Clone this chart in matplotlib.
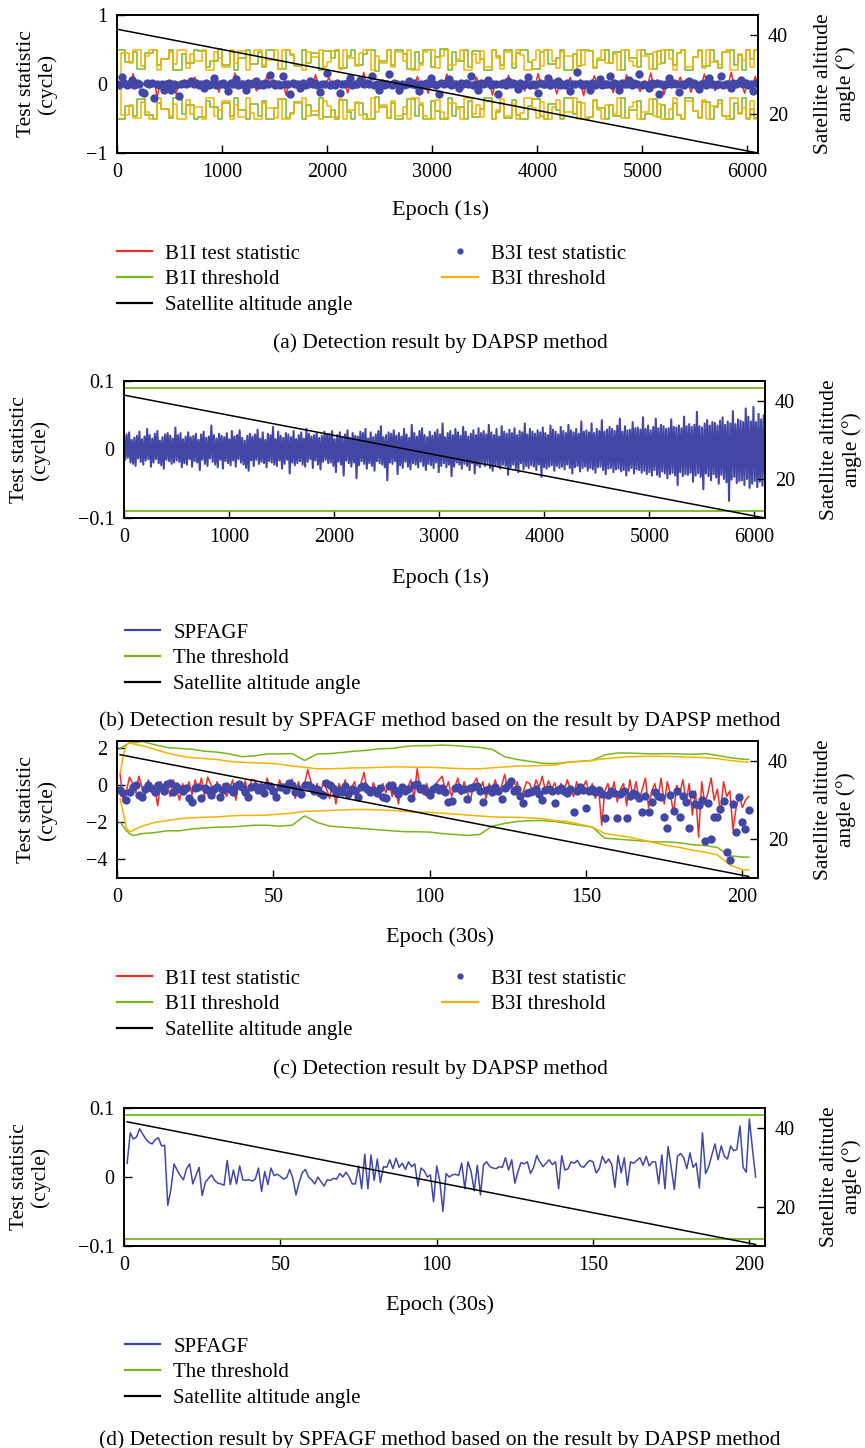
import matplotlib.pyplot as plt
import numpy as np
from matplotlib.lines import Line2D

plt.rcParams['font.family'] = 'Liberation Serif'
plt.rcParams['font.size'] = 14

RED = '#e8302a'
GREEN = '#7ab51d'
ORANGE = '#f5b300'
BLUE = '#4247a6'

# satellite altitude angle (deg) over the arc
alt_epoch_1s = [0, 6100]
alt_deg_1s = [41.4, 10.0]
alt_epoch_30s = [1, 202]
alt_deg_30s = [41.5, 10.4]

# ---- 1 s sampling, test statistics in 1e-3 cycle ----
b1i_stat_1s = [
    10, -15, 5, -8, 20, -5, 150, -12, 8, -20, 4, -6, 15, -10, 3, -190, 12, -4, 7, -18,
    6, -9, -145, 14, -3, 10, -7, 5, -14, 100, -2, 8, -11, 18, -6, 3, -9, 12, -120, 4,
    -5, 16, -8, 2, 160, -13, 6, -4, 11, -16, 7, -3, -100, 9, -12, 5, 120, -7, 3, -10,
    14, -6, 8, -160, 4, -11, 10, -2, -110, 6, 13, -8, 5, -15, 135, -4, 9, -12, 3, 95,
    -7, 12, -5, 8, -16, 2, -130, 10, -3, 14, -9, 6, 170, -11, 4, -8, 15, -6, -85, 9,
    3, -13, 7, -4, 11, -150, 5, -10, 16, -2, 8, -14, 110, -6, 12, -3, -135, 9, -7, 4,
    13, -9, 6, 145, -12, 3, -5, 10, -120, 8, -4, 15, -11, 2, 100, -8, 12, -16, 5, -3,
    -160, 7, -10, 14, -6, 4, 125, -13, 9, -2, 11, -7, -100, 16, -4, 8, -12, 150, 3, -9,
    6, -14, 10, -5, -145, 12, -3, 7, -11, 95, -8, 15, -6, 4, -170, 9, -13, 5, 120, -2,
    11, -7, 3, -16, 8, -125, 14, -4, 6, -10, 135, -12, 5, -3, 13, -110, 7, -9, 2, 160,
    -11, 4, -6, 12, -150, 8, -15, 3, 10, -5, 100, -8, 14, -2, -120, 6, -12, 9, -4, 145,
    7, -13, 5, -95, 11, -3, 16, -9, 4, 170, -7, 12, -14, 6, -135, 2, 10, -6, 110, -10,
]
b3i_stat_1s = [
    5, -10, 100, 12, -8, 3, 60, -15, 8, -4, -120, -130, 10, -6, 15, -200, 2, -12, 7, -80,
    -3, 11, -90, 6, -14, -180, 4, 9, -7, 13, 40, -5, 8, -11, 2, -60, 14, -9, 5, 90,
    -12, 6, -3, 15, -8, -100, 10, -4, 70, -13, 7, -2, -90, 12, -6, 9, 50, -15, 3, -8,
    11, -5, 130, 8, -12, 4, -10, 120, 6, -3, -150, 14, -7, 2, -60, 9, -11, 5, 40, -4,
    13, -9, -110, 7, -2, 160, -14, 6, -8, 10, -130, 3, -5, 12, 80, -10, 4, -7, 60, 15,
    -6, 9, -3, 110, -12, 5, -80, 8, -15, 2, 150, -9, 11, -4, -90, 6, -13, 7, 50, -2,
    10, -8, -100, 4, -11, 14, -6, 90, 3, -14, -140, 8, -5, 12, 70, -9, 6, -3, -60, 11,
    -7, 13, -4, 120, -10, 5, -90, 9, -2, 15, 60, -12, 7, -6, -150, 3, 11, -8, 40, -5,
    14, -3, -70, 8, -13, 6, 100, -9, 4, -11, -130, 12, -7, 2, 90, -15, 10, -4, 50, -8,
    5, -12, 9, -100, 3, -6, 180, 11, -14, 7, -2, -80, 13, -9, 4, 70, -10, 6, -3, 120,
    -11, 8, -5, -90, 15, -7, 3, 60, -12, 10, -4, 140, -8, 5, -13, -60, 9, -2, 11, -140,
    6, -10, 4, 80, -6, 12, -3, -110, 7, -14, 9, 50, -5, 13, -8, -70, 2, 10, -12, 90,
    -4, 7, -15, 3, 110, -9, 6, -2, -60, 11, -7, 14, 60, -3, 8, -11, 5, -100, 12, -6,
]
# thresholds are symmetric (+/-), in cycle
b1i_thr_1s = [
    0.50, 0.50, 0.32, 0.32, 0.47, 0.22, 0.22, 0.45, 0.45, 0.50, 0.28, 0.36, 0.36, 0.49, 0.21, 0.21, 0.44, 0.30, 0.30, 0.50,
    0.48, 0.48, 0.25, 0.33, 0.33, 0.51, 0.27, 0.27, 0.46, 0.20, 0.38, 0.38, 0.50, 0.29, 0.29, 0.47, 0.24, 0.50, 0.50, 0.35,
    0.22, 0.22, 0.49, 0.42, 0.26, 0.26, 0.50, 0.31, 0.45, 0.45, 0.21, 0.48, 0.48, 0.37, 0.50, 0.23, 0.23, 0.40, 0.50, 0.27,
    0.27, 0.44, 0.50, 0.50, 0.19, 0.34, 0.34, 0.49, 0.28, 0.50, 0.50, 0.43, 0.22, 0.22, 0.47, 0.30, 0.50, 0.50, 0.25, 0.39,
    0.51, 0.51, 0.21, 0.46, 0.33, 0.33, 0.50, 0.24, 0.48, 0.48, 0.36, 0.20, 0.20, 0.50, 0.41, 0.27, 0.49, 0.49, 0.23, 0.45,
    0.50, 0.50, 0.32, 0.22, 0.22, 0.47, 0.50, 0.29, 0.29, 0.38, 0.50, 0.21, 0.21, 0.44, 0.26, 0.50, 0.50, 0.48, 0.23, 0.35,
    0.35, 0.50, 0.30, 0.46, 0.46, 0.20, 0.49, 0.37, 0.37, 0.25, 0.50, 0.43, 0.43, 0.22, 0.48, 0.31, 0.50, 0.50, 0.27, 0.45,
    0.50, 0.21, 0.21, 0.39, 0.49, 0.26, 0.26, 0.50, 0.34, 0.23, 0.47, 0.47, 0.50, 0.28, 0.42, 0.20, 0.50, 0.36, 0.49, 0.24,
]
b3i_thr_1s = [
    0.00, 0.45, 0.45, 0.30, 0.49, 0.49, 0.26, 0.41, 0.50, 0.50, 0.20, 0.36, 0.36, 0.47, 0.29, 0.50, 0.50, 0.23, 0.43, 0.33,
    0.33, 0.50, 0.21, 0.21, 0.46, 0.38, 0.24, 0.24, 0.50, 0.31, 0.48, 0.48, 0.20, 0.42, 0.50, 0.50, 0.27, 0.35, 0.35, 0.49,
    0.22, 0.50, 0.50, 0.44, 0.28, 0.28, 0.21, 0.47, 0.39, 0.39, 0.50, 0.25, 0.32, 0.48, 0.48, 0.22, 0.50, 0.37, 0.37, 0.26,
    0.45, 0.50, 0.50, 0.20, 0.41, 0.30, 0.30, 0.49, 0.24, 0.47, 0.47, 0.34, 0.50, 0.21, 0.21, 0.28, 0.46, 0.50, 0.50, 0.23,
    0.40, 0.49, 0.27, 0.27, 0.36, 0.50, 0.20, 0.20, 0.44, 0.31, 0.48, 0.25, 0.25, 0.50, 0.38, 0.22, 0.47, 0.47, 0.29, 0.50,
    0.42, 0.20, 0.20, 0.35, 0.49, 0.26, 0.50, 0.50, 0.33, 0.23, 0.46, 0.40, 0.40, 0.21, 0.50, 0.28, 0.48, 0.48, 0.24, 0.37,
    0.50, 0.30, 0.30, 0.44, 0.20, 0.49, 0.49, 0.34, 0.26, 0.50, 0.41, 0.41, 0.22, 0.47, 0.29, 0.50, 0.50, 0.36, 0.21, 0.45,
    0.50, 0.25, 0.25, 0.39, 0.48, 0.23, 0.50, 0.32, 0.32, 0.27, 0.46, 0.50, 0.20, 0.20, 0.43, 0.35, 0.49, 0.24, 0.50, 0.30,
]
spfagf_1s = [
    18, -15, 22, -12, 25, -19, 14, -21, 17, -24, 20, -13, 26, -18, 15, -22, 19, -16, 30, -14,
    21, -25, 16, -19, 23, -14, 27, -20, 13, -23, 18, -28, 22, -15, 24, -17, 20, -21, 16, -19,
    32, -16, 21, -18, 24, -26, 15, -20, 19, -22, 25, -14, 18, -25, 20, -17, 23, -19, 14, -30,
    22, -15, 26, -21, 17, -24, 19, -13, 35, -18, 21, -22, 16, -26, 23, -15, 20, -28, 18, -17,
    24, -20, 15, -23, 27, -16, 19, -25, 21, -14, 28, -19, 17, -22, 13, -27, 20, -31, 23, -16,
    19, -24, 22, -15, 29, -21, 16, -18, 25, -20, 14, -26, 23, -17, 21, -19, 33, -22, 15, -24,
    26, -16, 20, -28, 17, -21, 24, -15, 22, -35, 18, -19, 27, -23, 15, -20, 21, -17, 25, -22,
    16, -25, 30, -18, 23, -14, 19, -27, 21, -16, 24, -22, 17, -29, 20, -18, 26, -15, 22, -20,
    23, -19, 27, -24, 15, -33, 21, -18, 25, -22, 18, -38, 22, -16, 28, -20, 17, -25, 24, -19,
    20, -42, 19, -23, 26, -17, 24, -21, 30, -28, 16, -20, 25, -24, 18, -31, 22, -17, 27, -20,
    34, -22, 18, -26, 21, -45, 25, -19, 23, -21, 28, -17, 20, -36, 24, -23, 19, -27, 30, -18,
    22, -25, 17, -29, 36, -20, 24, -22, 19, -26, 27, -18, 31, -24, 21, -30, 18, -21, 26, -23,
    20, -27, 25, -19, 29, -33, 22, -24, 38, -20, 18, -26, 24, -22, 27, -39, 21, -25, 30, -19,
    25, -22, 20, -28, 33, -21, 26, -24, 19, -30, 23, -20, 28, -35, 21, -23, 31, -26, 24, -19,
    27, -24, 22, -20, 36, -27, 25, -31, 21, -23, 30, -25, 19, -28, 34, -22, 26, -24, 23, -37,
    29, -26, 24, -22, 31, -28, 21, -33, 27, -20, 25, -29, 38, -24, 22, -27, 30, -23, 26, -25,
    23, -30, 28, -22, 25, -40, 32, -26, 24, -28, 21, -25, 35, -23, 29, -31, 26, -24, 22, -27,
    33, -25, 27, -29, 24, -22, 36, -27, 28, -35, 25, -26, 30, -24, 23, -32, 41, -27, 26, -25,
    28, -31, 25, -27, 38, -29, 24, -34, 30, -26, 27, -25, 43, -30, 26, -36, 29, -28, 33, -27,
    30, -33, 27, -29, 35, -28, 45, -32, 26, -30, 34, -38, 28, -31, 29, -27, 40, -35, 31, -29,
    32, -30, 29, -34, 47, -31, 30, -36, 35, -33, 28, -38, 33, -30, 45, -37, 31, -40, 36, -32,
    34, -35, 30, -42, 31, -36, 44, -34, 33, -38, 32, -52, 35, -33, 31, -39, 48, -36, 34, -37,
    37, -34, 33, -47, 36, -38, 55, -35, 34, -40, 32, -58, 38, -35, 43, -39, 35, -45, 40, -36,
    39, -41, 35, -50, 42, -37, 47, -43, 36, -48, 41, -75, 38, -44, 56, -40, 37, -49, 44, -46,
    42, -45, 40, -52, 60, -43, 48, -56, 41, -50, 62, -46, 40, -55, 52, -47, 44, -53, 50, -42,
]
spfagf_thr = 0.09

# ---- 30 s sampling, epochs 1..202 ----
b1i_stat_30s = [
    0.60, -0.90, -0.30, 0.45, 0.10, -0.40, 0.50, -0.10, -0.50, 0.30,
    -0.20, 0.00, -1.10, 0.20, -0.30, 0.10, -0.60, 0.30, -0.20, -0.80,
    0.10, -0.40, 0.20, -0.50, 0.30, -0.30, 0.40, -0.60, 0.45, 0.05,
    -0.70, 0.20, -0.40, 0.10, -0.60, -0.20, 0.30, -0.80, 0.15, -0.30,
    0.25, -0.50, 0.30, 0.30, -0.20, 0.10, -0.60, 0.40, -0.30, 0.05,
    -0.50, 0.30, -0.20, 0.10, -0.40, 0.35, -0.70, 0.20, -0.30, 0.10,
    0.85, 0.20, -0.30, 0.10, -0.50, 0.25, -0.20, -0.70, 0.15, -1.00,
    0.10, -0.30, 0.30, -0.40, -0.10, 0.20, -0.60, 0.10, 0.70, -0.20,
    -0.50, 0.15, -0.30, -0.70, 0.10, -0.40, 0.20, -0.60, -0.10, -1.00,
    0.00, -0.30, -0.10, 0.30, -0.70, 0.90, -0.20, -0.50, 0.10, -0.40,
    -0.20, 0.10, 0.30, 0.50, -0.30, 0.20, -0.60, -0.10, 0.40, -0.50,
    0.20, -0.30, -0.90, 0.10, 0.40, -0.40, 0.20, -0.70, 0.10, -0.20,
    0.30, -0.50, 0.00, 0.60, -0.30, 0.10, -0.20, 0.20, -0.60, -0.30,
    0.20, 0.10, -0.40, 0.30, -0.10, 0.50, -0.30, 0.25, -0.20, 0.15,
    -0.50, 0.10, -0.30, 0.30, -0.20, -0.60, 0.20, -0.30, -0.10, 0.25,
    -0.40, 0.10, -0.70, -0.10, -2.15, -0.30, 0.10, -0.60, 0.20, -0.90,
    -0.20, 0.10, -1.10, 0.30, -0.60, 0.20, -0.80, -0.20, 0.40, -1.20,
    -0.30, 0.10, -0.70, 0.40, -1.00, 0.20, -0.50, -1.50, 0.00, -0.40,
    0.30, -0.90, 0.10, -1.60, -0.30, -2.80, 0.20, -1.00, -0.40, 0.40,
    -0.80, -0.20, -1.50, 0.20, -0.60, -0.30, -2.40, -1.20, -0.50, -1.20, -0.80, -0.60,
]
b3i_stat_30s = [
    -0.25, -0.40, -0.80, -0.35, -0.10, 0.00, -0.50, -0.62, -0.20, 0.00,
    -0.15, -0.35, 0.05, -0.10, -0.30, 0.10, 0.15, -0.35, -0.05, -0.20,
    -0.30, -0.15, -0.70, -0.90, -0.15, -0.10, -0.70, -0.15, -0.25, -0.50,
    -0.20, -0.10, -0.60, -0.25, -0.05, -0.20, -0.35, -0.05, 0.10, -0.10,
    -0.35, -0.60, -0.10, -0.05, -0.25, -0.10, -0.40, 0.00, -0.05, -0.30,
    -0.60, -0.10, -0.10, -0.25, 0.15, 0.00, -0.35, -0.20, -0.45, 0.05,
    0.00, -0.10, -0.30, -0.20, -0.40, -0.50, 0.15, 0.05, -0.15, -0.40,
    -0.25, -0.35, -0.05, -0.45, -0.20, -0.30, -0.60, -0.10, -0.05, -0.20,
    -0.35, -0.25, -0.40, -0.15, -0.60, -0.70, -0.05, 0.05, -0.25, -0.45,
    -0.10, -0.30, -0.20, -0.70, 0.05, 0.10, -0.20, -0.15, -0.35, -0.50,
    -0.20, -0.10, -0.25, -0.15, -0.35, -0.90, -0.85, -0.15, -0.10, -0.25,
    -0.20, -0.75, -0.15, -0.10, -0.05, -0.30, -0.90, -0.25, -0.20, -0.35,
    -0.10, -0.30, -0.75, -0.15, 0.00, 0.23, -0.30, -0.20, -0.55, -0.95,
    -0.40, -0.35, -0.30, -0.20, -0.45, -0.80, -0.25, -0.20, -0.30, -0.95,
    -0.25, -0.15, -0.30, -0.40, -0.20, -1.45, -0.30, -0.10, -0.25, -1.20,
    -0.30, -0.20, -0.35, -0.25, -0.45, -1.75, -0.50, -0.30, -0.40, -1.75,
    -0.45, -0.30, -1.75, -0.55, -0.40, -0.50, -0.70, -1.45, -0.55, -1.45,
    -0.90, -0.35, -0.55, -0.60, -1.70, -2.30, -0.50, -1.40, -0.30, -1.70,
    -0.55, -0.90, -2.30, -0.45, -1.00, -1.05, -0.80, -3.00, -0.95, -2.90,
    -1.70, -1.70, -1.25, -0.85, -3.60, -4.05, -1.00, -2.50, -0.65, -1.95, -2.35, -1.35,
]
thr_epoch_30s = [1, 2, 3, 4, 5, 6] + list(range(8, 201, 4)) + [202]
b1i_thr_up_30s = [
    2.00, 2.10, 2.20, 2.30, 2.35, 2.30,
    2.38, 2.20, 2.05, 2.00, 1.95, 1.85, 1.80, 1.70, 1.55, 1.60, 1.70, 1.70, 1.72, 1.35,
    1.70, 1.72, 1.78, 1.85, 1.90, 1.98, 2.00, 2.10, 2.15, 2.15, 2.18, 2.15, 2.10, 2.05,
    1.95, 1.55, 1.40, 1.30, 1.20, 1.18, 1.25, 1.30, 1.35, 1.65, 1.75, 1.75, 1.72, 1.70,
    1.72, 1.70, 1.68, 1.72, 1.62, 1.50, 1.42, 1.40,
]
b1i_thr_lo_30s = [
    -2.00, -2.20, -2.45, -2.60, -2.70, -2.68,
    -2.60, -2.55, -2.45, -2.45, -2.35, -2.30, -2.25, -2.25, -2.20, -2.15, -2.15, -2.20, -2.15, -1.65,
    -2.00, -2.20, -2.25, -2.30, -2.35, -2.40, -2.45, -2.50, -2.50, -2.52, -2.60, -2.65, -2.70, -2.65,
    -2.20, -2.05, -1.95, -1.90, -1.90, -1.95, -2.05, -2.15, -2.25, -2.85, -2.90, -2.95, -3.00, -3.05,
    -3.05, -3.10, -3.20, -3.25, -3.35, -3.80, -3.87, -3.87,
]
b3i_thr_up_30s = [
    0.65, 1.60, 2.20, 2.30, 2.25, 2.20,
    2.15, 1.95, 1.75, 1.60, 1.50, 1.45, 1.40, 1.30, 1.25, 1.22, 1.20, 1.15, 1.05, 0.98,
    0.90, 0.90, 0.92, 0.95, 0.95, 0.98, 1.00, 1.00, 0.98, 0.98, 0.95, 0.92, 0.90, 0.90,
    0.95, 1.00, 1.05, 1.05, 1.08, 1.10, 1.25, 1.30, 1.35, 1.45, 1.50, 1.55, 1.57, 1.57,
    1.57, 1.55, 1.52, 1.50, 1.45, 1.35, 1.28, 1.26,
]
b3i_thr_lo_30s = [
    -0.72, -1.50, -2.30, -2.50, -2.45, -2.35,
    -2.20, -2.00, -1.90, -1.80, -1.75, -1.72, -1.70, -1.65, -1.62, -1.62, -1.60, -1.55, -1.50, -1.40,
    -1.38, -1.35, -1.32, -1.30, -1.30, -1.32, -1.35, -1.40, -1.45, -1.45, -1.50, -1.55, -1.60, -1.65,
    -1.70, -1.72, -1.72, -1.75, -1.80, -1.90, -1.95, -2.10, -2.25, -2.60, -2.70, -2.80, -2.95, -3.10,
    -3.25, -3.35, -3.50, -3.60, -3.75, -4.30, -4.55, -4.56,
]
# SPFAGF statistic, 1e-3 cycle
spfagf_30s = [
    20, 64, 55, 58, 70, 62, 55, 50, 48, 54,
    57, 45, 46, -41, -18, 19, 10, 2, -4, 12,
    19, -10, 2, 14, -27, -8, -2, 3, -5, -9,
    -10, -12, 24, -11, 10, -10, 16, -4, -5, -4,
    -6, -3, 13, -21, 8, -11, 13, 2, 4, 1,
    -3, -1, 11, -2, -26, -8, 6, 11, 0, -4,
    -10, 0, -7, -13, -4, -5, -2, -3, 5, 0,
    7, 0, -10, -10, 16, -17, 33, -17, 32, -5,
    26, -8, 15, 14, 25, 12, 27, 14, 20, 11,
    22, 15, 19, -13, 13, 9, 0, 3, -36, 16,
    -6, -50, 5, 0, 3, 4, 2, 20, -17, 22,
    8, -20, 17, -26, 18, 22, 15, 13, 12, 15,
    14, 28, 10, 25, -9, 8, 21, 19, 22, 5,
    14, 31, 22, 15, 20, 25, 18, 22, -17, 31,
    10, 12, 22, 20, 24, 16, 14, 20, 24, 22,
    6, 12, 30, 20, 26, 18, -15, 31, 6, 28,
    -12, 22, 20, 24, 28, 17, 30, 16, 22, 22,
    -10, 32, -17, 44, 14, -18, 30, 34, 28, 12,
    35, 14, 20, -16, 64, 5, 15, 32, 48, 25,
    45, 30, 26, 45, 38, 40, 74, 14, 7, 84,
    40, 0,
]

W, H = 865, 1448
fig = plt.figure(figsize=(W / 100, H / 100), dpi=100)


def px_box(l, t, r, b):
    return [l / W, 1 - b / H, (r - l) / W, (b - t) / H]


def make_axes(l, t, r, b, xlim, xticks, ylim, yticks, ylabels):
    ax = fig.add_axes(px_box(l, t, r, b))
    ax2 = ax.twinx()
    ax.set_xlim(*xlim)
    ax.set_xticks(xticks)
    ax.set_ylim(*ylim)
    ax.set_yticks(yticks)
    ax.set_yticklabels(ylabels)
    ax2.set_ylim(10, 45)
    ax2.set_yticks([20, 40])
    ax.tick_params(direction='in', length=6, width=1, labelsize=14.5, pad=7,
                   right=False, top=False)
    ax2.tick_params(direction='in', length=6, width=1, labelsize=14.5, pad=7)
    for a in (ax, ax2):
        for s in a.spines.values():
            s.set_linewidth(1.2)
    return ax, ax2


def side_labels(ax, lx, rx, xlabel, xy):
    pos = ax.get_position()
    yc = (pos.y0 + pos.y1) / 2
    fig.text(lx / W, yc, 'Test statistic\n(cycle)', rotation=90, ha='center',
             va='center', multialignment='center', fontsize=15.5, linespacing=1.15)
    fig.text(rx / W, yc, 'Satellite altitude\nangle (°)', rotation=90, ha='center',
             va='center', multialignment='center', fontsize=15.5, linespacing=1.15)
    fig.text(440 / W, 1 - xy / H, xlabel, ha='center', va='center', fontsize=16)


def caption(text, y):
    fig.text(440 / W, 1 - y / H, text, ha='center', va='center', fontsize=15.5)


def legend(handles, x, y, ncol):
    fig.legend(handles, [h.get_label() for h in handles], loc='upper left',
               bbox_to_anchor=(x / W, 1 - y / H), ncol=ncol, frameon=False,
               fontsize=15, handlelength=1.7, handletextpad=0.62,
               columnspacing=4.3, labelspacing=0.29, borderpad=0, borderaxespad=0)


h_b1i = Line2D([], [], color=RED, lw=1.6, label='B1I test statistic')
h_b3i = Line2D([], [], color=BLUE, marker='o', ls='none', ms=3.5, label='B3I test statistic')
h_b1i_thr = Line2D([], [], color=GREEN, lw=1.6, label='B1I threshold')
h_b3i_thr = Line2D([], [], color=ORANGE, lw=1.6, label='B3I threshold')
h_alt = Line2D([], [], color='black', lw=1.6, label='Satellite altitude angle')
h_spf = Line2D([], [], color=BLUE, lw=1.6, label='SPFAGF')
h_thr = Line2D([], [], color=GREEN, lw=1.6, label='The threshold')

# (a) DAPSP, 1 s
ax, ax2 = make_axes(117, 15, 758, 153, (0, 6100), range(0, 6001, 1000),
                    (-1, 1), [-1, 0, 1], ['\u22121', '0', '1'])
x_red = np.linspace(0, 6100, len(b1i_stat_1s))
x_dot = np.linspace(0, 6100, len(b3i_stat_1s))
x_g = np.linspace(0, 6100, len(b1i_thr_1s))
x_o = np.linspace(0, 6100, len(b3i_thr_1s))
ax.plot(x_red, np.array(b1i_stat_1s) / 1000, color=RED, lw=1.1)
ax.plot(x_g, b1i_thr_1s, color=GREEN, lw=1.1, drawstyle='steps-post')
ax.plot(x_g, -np.array(b1i_thr_1s), color=GREEN, lw=1.1, drawstyle='steps-post')
ax.plot(x_o, b3i_thr_1s, color=ORANGE, lw=1.1, drawstyle='steps-post')
ax.plot(x_o, -np.array(b3i_thr_1s), color=ORANGE, lw=1.1, drawstyle='steps-post')
ax.plot(x_dot, np.array(b3i_stat_1s) / 1000, 'o', color=BLUE, ms=6, mew=0)
ax2.plot(alt_epoch_1s, alt_deg_1s, color='black', lw=1.1)
side_labels(ax, 37, 835, 'Epoch (1s)', 210)
legend([h_b1i, h_b1i_thr, h_alt, h_b3i, h_b3i_thr], 117, 244, 2)
caption('(a) Detection result by DAPSP method', 343)

# (b) SPFAGF, 1 s
ax, ax2 = make_axes(124, 381, 765, 518, (0, 6100), range(0, 6001, 1000),
                    (-0.1, 0.1), [-0.1, 0, 0.1], ['\u22120.1', '0', '0.1'])
x_spf = np.linspace(0, 6100, len(spfagf_1s))
ax.plot(x_spf, np.array(spfagf_1s) / 1000, color=BLUE, lw=1.5)
ax.axhline(spfagf_thr, color=GREEN, lw=1.3)
ax.axhline(-spfagf_thr, color=GREEN, lw=1.3)
ax2.plot(alt_epoch_1s, alt_deg_1s, color='black', lw=1.1)
side_labels(ax, 30, 841, 'Epoch (1s)', 578)
legend([h_spf, h_thr, h_alt], 125, 623, 1)
caption('(b) Detection result by SPFAGF method based on the result by DAPSP method', 721)

# (c) DAPSP, 30 s
ax, ax2 = make_axes(117, 741, 758, 878, (0, 205), range(0, 201, 50),
                    (-5, 2.4), [-4, -2, 0, 2], ['\u22124', '\u22122', '0', '2'])
ep = np.arange(1, len(b1i_stat_30s) + 1)
ax.plot(ep, b1i_stat_30s, color=RED, lw=1.1)
ax.plot(thr_epoch_30s, b1i_thr_up_30s, color=GREEN, lw=1.1)
ax.plot(thr_epoch_30s, b1i_thr_lo_30s, color=GREEN, lw=1.1)
ax.plot(thr_epoch_30s, b3i_thr_up_30s, color=ORANGE, lw=1.1)
ax.plot(thr_epoch_30s, b3i_thr_lo_30s, color=ORANGE, lw=1.1)
ax.plot(np.arange(1, len(b3i_stat_30s) + 1), b3i_stat_30s, 'o', color=BLUE, ms=6, mew=0)
ax2.plot(alt_epoch_30s, alt_deg_30s, color='black', lw=1.1)
side_labels(ax, 37, 835, 'Epoch (30s)', 937)
legend([h_b1i, h_b1i_thr, h_alt, h_b3i, h_b3i_thr], 117, 969, 2)
caption('(c) Detection result by DAPSP method', 1069)

# (d) SPFAGF, 30 s
ax, ax2 = make_axes(124, 1108, 765, 1246, (0, 205), range(0, 201, 50),
                    (-0.1, 0.1), [-0.1, 0, 0.1], ['\u22120.1', '0', '0.1'])
ax.plot(np.arange(1, len(spfagf_30s) + 1), np.array(spfagf_30s) / 1000, color=BLUE, lw=1.1)
ax.axhline(spfagf_thr, color=GREEN, lw=1.3)
ax.axhline(-spfagf_thr, color=GREEN, lw=1.3)
ax2.plot(alt_epoch_30s, alt_deg_30s, color='black', lw=1.1)
side_labels(ax, 30, 841, 'Epoch (30s)', 1305)
legend([h_spf, h_thr, h_alt], 125, 1337, 1)
caption('(d) Detection result by SPFAGF method based on the result by DAPSP method', 1440)

fig.savefig('out.png', dpi=100)
